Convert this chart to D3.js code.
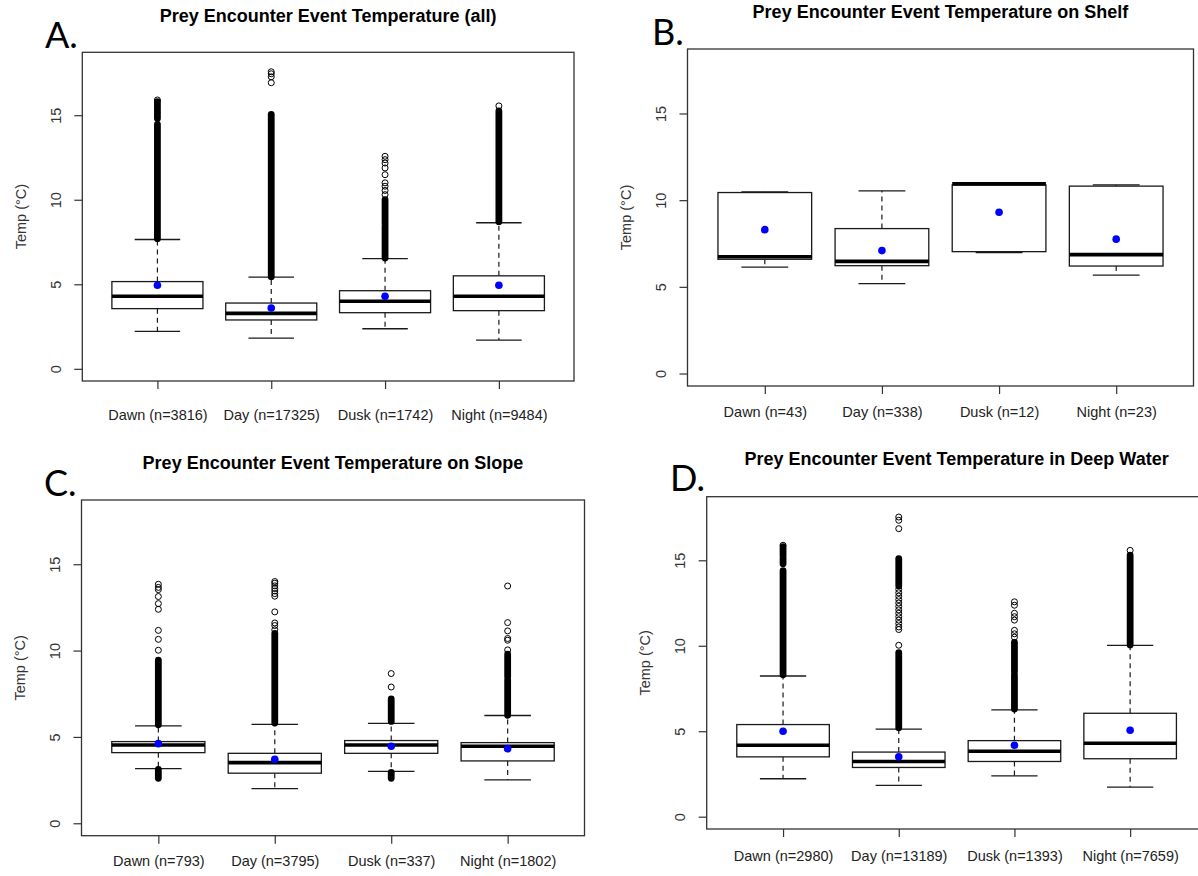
<!DOCTYPE html>
<html><head><meta charset="utf-8">
<script src="https://cdn.jsdelivr.net/npm/d3@7"></script>
<style>body{margin:0;background:#fff}svg{display:block}</style>
</head><body><svg id="c" width="1198" height="876"></svg>
<script>
// ---------------- DATA ----------------
const categories = ["Dawn", "Day", "Dusk", "Night"];
const yTicks = [0, 5, 10, 15];
const yLimits = [0, 18];
const yLabel = "Temp (°C)";
const titles = [
  "Prey Encounter Event Temperature (all)",
  "Prey Encounter Event Temperature on Shelf",
  "Prey Encounter Event Temperature on Slope",
  "Prey Encounter Event Temperature in Deep Water"
];
const panelLetters = ["A.", "B.", "C.", "D."];

const countsA = [3816, 17325, 1742, 9484];
const countsB = [43, 338, 12, 23];
const countsC = [793, 3795, 337, 1802];
const countsD = [2980, 13189, 1393, 7659];

// [lower whisker, Q1, median, Q3, upper whisker]
const statsA = [[2.22, 3.56, 4.29, 5.16, 7.65], [1.82, 2.89, 3.28, 3.89, 5.42], [2.37, 3.32, 4.0, 4.62, 6.52], [1.70, 3.44, 4.29, 5.50, 8.64]];
const statsB = [[6.14, 6.59, 6.74, 10.44, 10.48], [5.18, 6.22, 6.47, 8.36, 10.54], [6.97, 7.03, 10.94, 10.88, 10.97], [5.68, 6.20, 6.86, 10.81, 10.88]];
const statsC = [[3.17, 4.09, 4.53, 4.73, 5.64], [2.01, 2.90, 3.51, 4.05, 5.73], [3.01, 4.05, 4.53, 4.79, 5.79], [2.51, 3.61, 4.46, 4.67, 6.24]];
const statsD = [[2.22, 3.50, 4.18, 5.39, 8.23], [1.83, 2.88, 3.23, 3.78, 5.12], [2.39, 3.23, 3.83, 4.45, 6.25], [1.73, 3.39, 4.30, 6.05, 10.02]];

const meansA = [4.94, 3.60, 4.29, 4.94];
const meansB = [8.30, 7.09, 9.30, 7.75];
const meansC = [4.61, 3.71, 4.46, 4.32];
const meansD = [5.00, 3.50, 4.18, 5.06];

// dense runs of overlapping outliers [from, to]
const denseA = [[[7.7, 14.45], [14.8, 15.1], [15.25, 15.8]], [[5.45, 15.05]], [[6.55, 8.45], [8.6, 10.0]], [[8.7, 15.25]]];
const denseB = [[], [], [], []];
const denseC = [[[5.7, 9.45], [2.6, 3.12]], [[5.8, 11.0]], [[5.9, 7.2], [2.6, 2.95]], [[6.25, 8.3], [8.5, 9.8]]];
const denseD = [[[8.3, 14.4], [14.8, 15.1], [15.25, 15.8]], [[5.2, 9.6], [13.5, 15.1]], [[6.3, 8.3], [8.5, 10.2]], [[10.05, 15.3]]];

// isolated outliers
const singleA = [[15.9], [16.92, 17.27, 17.45, 17.57], [10.3, 10.55, 10.8, 11.0, 11.48, 11.88, 12.17, 12.37, 12.57], [15.55]];
const singleB = [[], [], [], []];
const singleC = [[10.02, 10.65, 11.17, 12.39, 12.72, 13.13, 13.53, 13.66, 13.84],
                 [11.2, 11.45, 11.6, 12.24, 13.15, 13.3, 13.45, 13.6, 13.75, 13.9, 14.0],
                 [7.89, 8.67],
                 [10.04, 10.6, 10.7, 11.14, 11.62, 13.74]];
const singleD = [[15.88],
                 [10.03, 10.95, 11.1, 11.3, 11.5, 11.7, 11.9, 12.1, 12.3, 12.5, 12.7, 12.9, 13.1, 13.3, 16.85, 17.34, 17.53],
                 [10.5, 10.7, 10.9, 11.5, 11.7, 11.9, 12.37, 12.57],
                 [15.58]];

// ---------------- LAYOUT ----------------
const panels = [
  {counts: countsA, stats: statsA, means: meansA, dense: denseA, single: singleA,
   l: 82.3, r: 574, t: 52.3, b: 381, titleY: 22, letterX: 45, letterY: 48, xlabY: 420},
  {counts: countsB, stats: statsB, means: meansB, dense: denseB, single: singleB,
   l: 687.5, r: 1193.5, t: 49, b: 386, titleY: 18, letterX: 652, letterY: 45, xlabY: 417},
  {counts: countsC, stats: statsC, means: meansC, dense: denseC, single: singleC,
   l: 81.5, r: 584.5, t: 500, b: 835.7, titleY: 469, letterX: 44, letterY: 496, xlabY: 866},
  {counts: countsD, stats: statsD, means: meansD, dense: denseD, single: singleD,
   l: 706.7, r: 1206.5, t: 496.7, b: 829, titleY: 465, letterX: 670, letterY: 491, xlabY: 861}
];

const svg = d3.select("#c");
const FONT = "'Liberation Sans', Arial, sans-serif";
const INK = "#1a1a1a";
const ptR = 3.0;

panels.forEach((p, pi) => {
  const g = svg.append("g");
  const pad = (yLimits[1] - yLimits[0]) * 0.04;
  const y = d3.scaleLinear().domain([yLimits[0] - pad, yLimits[1] + pad]).range([p.b, p.t]);
  const x = d3.scaleLinear().domain([0.5 - 0.16, categories.length + 0.5 + 0.16]).range([p.l, p.r]);
  const bw = 0.4, cw = 0.2;

  // frame
  g.append("rect").attr("x", p.l).attr("y", p.t).attr("width", p.r - p.l).attr("height", p.b - p.t)
    .attr("fill", "none").attr("stroke", "#333").attr("stroke-width", 1.3);

  // y axis
  const ya = g.append("g").attr("transform", `translate(${p.l},0)`)
    .call(d3.axisLeft(y).tickValues(yTicks).tickSize(8).tickSizeOuter(0).tickFormat(d3.format("d")));
  ya.select(".domain").remove();
  ya.selectAll(".tick line").attr("stroke", "#333").attr("stroke-width", 1.2);
  ya.selectAll(".tick text").attr("x", 0).attr("dy", "0.36em")
    .attr("text-anchor", "middle").attr("transform", "translate(-27,0) rotate(-90)")
    .style("font-family", FONT).style("font-size", "14.5px").attr("fill", "#333");

  // x axis
  const xa = g.append("g").attr("transform", `translate(0,${p.b})`)
    .call(d3.axisBottom(x).tickValues(categories.map((c, i) => i + 1)).tickSize(8).tickSizeOuter(0)
      .tickFormat((d, i) => `${categories[i]} (n=${p.counts[i]})`));
  xa.select(".domain").remove();
  xa.selectAll(".tick line").attr("stroke", "#333").attr("stroke-width", 1.2);
  xa.selectAll(".tick text").attr("y", p.xlabY - p.b).attr("dy", 0)
    .style("font-family", FONT).style("font-size", "14.5px").attr("fill", "#222");

  // y label
  g.append("text").attr("transform", `translate(${p.l - 62},${(p.t + p.b) / 2}) rotate(-90)`)
    .attr("dy", "0.36em").attr("text-anchor", "middle")
    .style("font-family", FONT).style("font-size", "14.5px").attr("fill", "#333").text(yLabel);

  // title
  g.append("text").attr("x", (p.l + p.r) / 2).attr("y", p.titleY)
    .attr("text-anchor", "middle").style("font-family", FONT).style("font-weight", "bold")
    .style("font-size", "18px").attr("fill", "#000").text(titles[pi]);

  // panel letter
  g.append("text").attr("x", p.letterX).attr("y", p.letterY)
    .style("font-family", "Lato, 'Open Sans', sans-serif").style("font-size", "36px")
    .attr("fill", "#000").text(panelLetters[pi]);

  // boxes
  p.stats.forEach((s, i) => {
    const c = i + 1;
    const [lo, q1, med, q3, hi] = s;
    const bg = g.append("g");
    bg.append("line").attr("x1", x(c)).attr("x2", x(c)).attr("y1", y(q3)).attr("y2", y(hi))
      .attr("stroke", INK).attr("stroke-width", 1.2).attr("stroke-dasharray", "5,4");
    bg.append("line").attr("x1", x(c)).attr("x2", x(c)).attr("y1", y(q1)).attr("y2", y(lo))
      .attr("stroke", INK).attr("stroke-width", 1.2).attr("stroke-dasharray", "5,4");
    [lo, hi].forEach(v => bg.append("line").attr("x1", x(c - cw)).attr("x2", x(c + cw))
      .attr("y1", y(v)).attr("y2", y(v)).attr("stroke", INK).attr("stroke-width", 1.3));
    bg.append("rect").attr("x", x(c - bw)).attr("width", x(c + bw) - x(c - bw))
      .attr("y", y(Math.max(q1, q3))).attr("height", Math.abs(y(q1) - y(q3)))
      .attr("fill", "#fff").attr("stroke", INK).attr("stroke-width", 1.3);
    bg.append("line").attr("x1", x(c - bw)).attr("x2", x(c + bw)).attr("y1", y(med)).attr("y2", y(med))
      .attr("stroke", "#000").attr("stroke-width", 3.6);
    p.dense[i].forEach(([a, b]) => {
      bg.append("line").attr("x1", x(c)).attr("x2", x(c)).attr("y1", y(a)).attr("y2", y(b))
        .attr("stroke", "#000").attr("stroke-width", 2 * ptR + 0.8).attr("stroke-linecap", "round");
    });
    p.single[i].forEach(v => {
      bg.append("circle").attr("cx", x(c)).attr("cy", y(v)).attr("r", ptR)
        .attr("fill", "none").attr("stroke", "#000").attr("stroke-width", 1);
    });
    bg.append("circle").attr("cx", x(c)).attr("cy", y(p.means[i])).attr("r", 3.8).attr("fill", "#0000ff");
  });
});
</script></body></html>
